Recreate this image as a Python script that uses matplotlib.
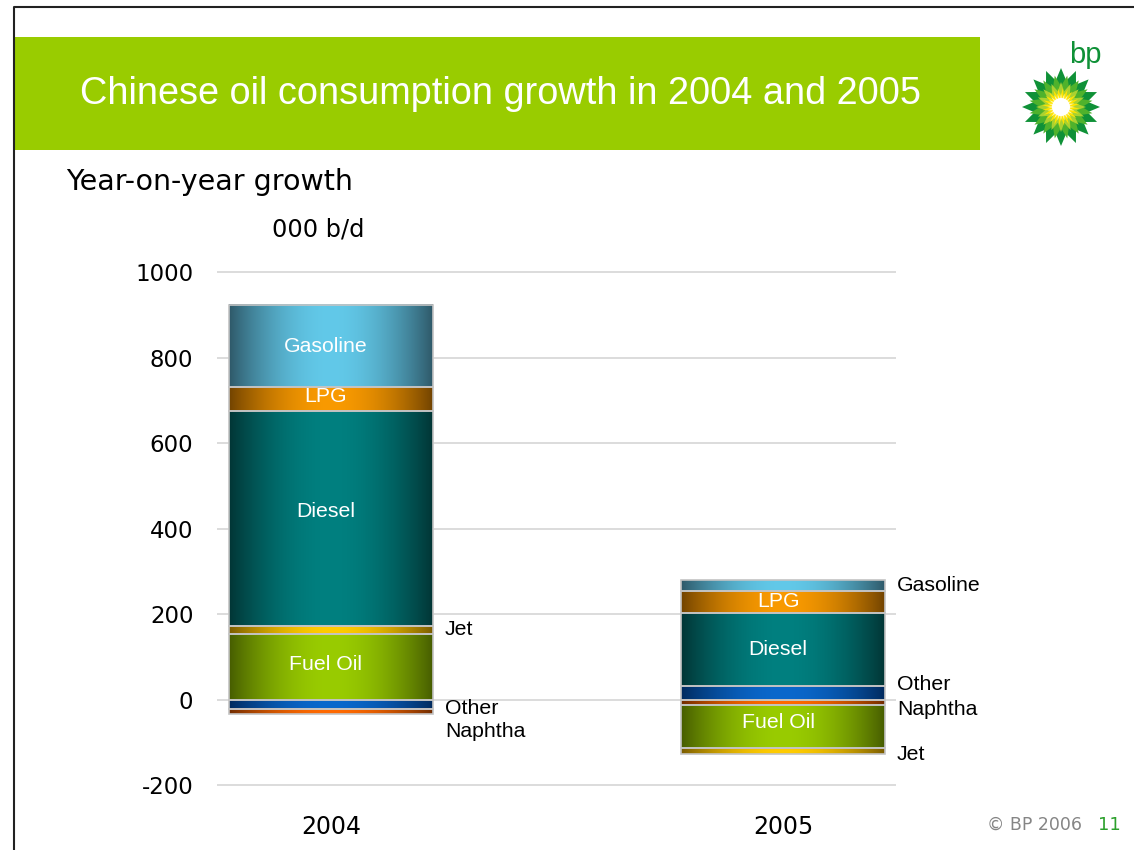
import numpy as np
import matplotlib.pyplot as plt
from matplotlib.colors import to_rgb
from matplotlib.patches import Rectangle, Polygon, Circle

plt.rcParams['axes.unicode_minus'] = False

years = ['2004', '2005']
products = ['Gasoline', 'LPG', 'Diesel', 'Jet', 'Fuel Oil', 'Other', 'Naphtha']
growth_2004 = [192, 54, 503, 20, 153, -21, -13]
growth_2005 = [25, 53, 170, -13, -101, 32, -13]
# stacking order: positives build up from zero, negatives build down from zero
stack_2004 = ['Fuel Oil', 'Jet', 'Diesel', 'LPG', 'Gasoline', 'Other', 'Naphtha']
stack_2005 = ['Other', 'Diesel', 'LPG', 'Gasoline', 'Naphtha', 'Fuel Oil', 'Jet']
yticks = [-200, 0, 200, 400, 600, 800, 1000]

# (edge colour, centre colour) for the horizontal shading of each product
shades = {
    'Gasoline': ('#2e5868', '#62c9e9'),
    'LPG': ('#714300', '#f99a00'),
    'Diesel': ('#023535', '#008080'),
    'Jet': ('#7a5c00', '#ffcc00'),
    'Fuel Oil': ('#465c00', '#99cc00'),
    'Other': ('#012a5e', '#0a68cc'),
    'Naphtha': ('#702c00', '#ff6a00'),
}
# labels drawn beside the bar, with a small vertical nudge in pixels
outside = {
    ('2004', 'Jet'): 0, ('2004', 'Other'): -4, ('2004', 'Naphtha'): -20,
    ('2005', 'Gasoline'): 0, ('2005', 'Other'): 8, ('2005', 'Naphtha'): -7,
    ('2005', 'Jet'): -3,
}
# small vertical nudges for labels inside the bars
inside = {('2004', 'Diesel'): 7, ('2004', 'LPG'): 3, ('2004', 'Fuel Oil'): 2,
          ('2005', 'Fuel Oil'): 4}

W, H = 1134, 850
fig = plt.figure(figsize=(W / 100, H / 100), dpi=100)

# slide background: frame, title band, logo, footer
bg = fig.add_axes([0, 0, 1, 1])
bg.set_xlim(0, W)
bg.set_ylim(H, 0)
bg.axis('off')
bg.plot([14, 14, W], [H, 7, 7], color='#222222', lw=1.5)
bg.add_patch(Rectangle((15, 37), 965, 113, color='#99cc00', lw=0))
bg.text(501, 94, 'Chinese oil consumption growth in 2004 and 2005', color='white',
        fontsize=27.3, family='Liberation Sans', ha='center', va='center')
bg.text(66, 182, 'Year-on-year growth', fontsize=20.5, family='DejaVu Sans',
        ha='left', va='center')
bg.text(272, 229, '000 b/d', fontsize=17.3, family='DejaVu Sans', ha='left', va='center')
bg.text(1082, 825, '\u00a9 BP 2006', fontsize=12.5, color='#858585',
        family='DejaVu Sans', ha='right', va='center')
bg.text(1098, 825, '11', fontsize=13, color='#2ca02c', family='DejaVu Sans',
        ha='left', va='center')


def star(cx, cy, r_out, r_in, n, rot):
    ang = np.arange(2 * n) * np.pi / n + rot
    r = np.where(np.arange(2 * n) % 2 == 0, r_out, r_in)
    return np.column_stack([cx + r * np.cos(ang), cy + r * np.sin(ang)])


cx, cy = 1061, 107
step = np.pi / 16
for r_out, r_in, n, rot, col in [(39, 27, 16, 0, '#0f9137'),
                                 (32, 21, 16, step, '#4fb22c'),
                                 (25, 16, 16, 0, '#a9d131'),
                                 (19, 11, 24, step / 2, '#ffe400'),
                                 (14, 8, 24, 0, '#fff7a0')]:
    bg.add_patch(Polygon(star(cx, cy, r_out, r_in, n, rot - np.pi / 2),
                         color=col, lw=0))
bg.add_patch(Circle((cx, cy), 9, color='white', lw=0))
bg.text(1085, 55, 'bp', fontsize=21, color='#0f9137', family='Liberation Sans',
        ha='center', va='center')

# chart
ax = fig.add_axes([0.1914, 0.0689, 0.5988, 0.6186])
for s in ax.spines.values():
    s.set_visible(False)
for t in yticks:
    ax.axhline(t, color='#d6d6d6', lw=1.2, zorder=0)
ax.set_yticks(yticks)
ax.set_xticks(range(len(years)), years)
ax.tick_params(length=0)
ax.tick_params(axis='y', pad=17, labelsize=16.5)
ax.tick_params(axis='x', pad=17, labelsize=17)

bar_w = 0.451
u = np.linspace(0, 1, 256)
profile = np.sin(np.pi * u) ** 0.9

for i, (yr, vals, order) in enumerate([('2004', growth_2004, stack_2004),
                                       ('2005', growth_2005, stack_2005)]):
    value = dict(zip(products, vals))
    pos, neg = 0, 0
    for name in order:
        v = value[name]
        if v >= 0:
            lo, hi = pos, pos + v
            pos = hi
        else:
            lo, hi = neg + v, neg
            neg = lo
        c0, c1 = np.array(to_rgb(shades[name][0])), np.array(to_rgb(shades[name][1]))
        grad = c0 + (c1 - c0) * profile[:, None]
        ax.imshow(grad[None, :, :], extent=(i - bar_w / 2, i + bar_w / 2, lo, hi),
                  aspect='auto', interpolation='bilinear', zorder=2)
        ax.bar(i, hi - lo, bottom=lo, width=bar_w, facecolor='none',
               edgecolor='#c4c4c4', lw=1.2, zorder=3)
        mid = (lo + hi) / 2
        if (yr, name) in outside:
            ax.annotate(name, (i + bar_w / 2, mid), xytext=(12, outside[(yr, name)]),
                        textcoords='offset pixels', ha='left', va='center',
                        fontsize=15.3, family='Liberation Sans')
        else:
            ax.annotate(name, (i, mid), xytext=(-5, inside.get((yr, name), 0)),
                        textcoords='offset pixels', ha='center', va='center',
                        color='white', fontsize=15.3, family='Liberation Sans',
                        zorder=4)

ax.set_xlim(-0.252, 1.25)
ax.set_ylim(-215, 1015)
fig.savefig('out.png', dpi=100)
